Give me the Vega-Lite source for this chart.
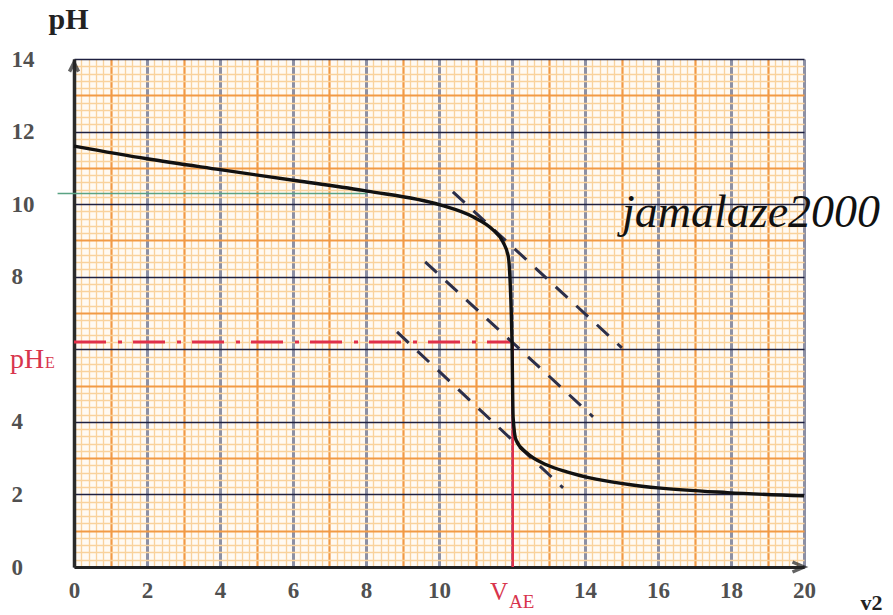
{
  "$schema": "https://vega.github.io/schema/vega-lite/v6.json",
  "width": 730,
  "height": 508,
  "autosize": {"type": "none"},
  "padding": {"left": 74, "top": 59, "right": 89, "bottom": 48},
  "background": "#ffffff",
  "config": {"view": {"stroke": null, "fill": "#fffaf3"}},
  "datasets": {
    "curve": [
      {"v": 0, "pH": 11.6},
      {"v": 2, "pH": 11.25},
      {"v": 4, "pH": 10.95},
      {"v": 6.2, "pH": 10.63},
      {"v": 8.03, "pH": 10.36},
      {"v": 10.03, "pH": 9.98},
      {"v": 10.93, "pH": 9.65},
      {"v": 11.48, "pH": 9.29},
      {"v": 11.75, "pH": 8.96},
      {"v": 11.9, "pH": 8.55},
      {"v": 11.95, "pH": 7.83},
      {"v": 12.0, "pH": 6.18},
      {"v": 12.03, "pH": 4.14},
      {"v": 12.11, "pH": 3.5},
      {"v": 12.41, "pH": 3.14},
      {"v": 12.96, "pH": 2.81},
      {"v": 13.5, "pH": 2.62},
      {"v": 14.3, "pH": 2.42},
      {"v": 15.3, "pH": 2.26},
      {"v": 16.0, "pH": 2.18},
      {"v": 17.9, "pH": 2.05},
      {"v": 20, "pH": 1.96}
    ],
    "tangents": [
      {"t": "a", "v": 10.38, "pH": 10.34},
      {"t": "a", "v": 15.01, "pH": 6.04},
      {"t": "b", "v": 9.62, "pH": 8.41},
      {"t": "b", "v": 14.22, "pH": 4.14},
      {"t": "c", "v": 8.85, "pH": 6.48},
      {"t": "c", "v": 13.4, "pH": 2.18}
    ],
    "phe": [{"v": 0, "pH": 6.2}, {"v": 11.95, "pH": 6.2}],
    "vae": [{"v": 12.02, "pH": 0}, {"v": 12.02, "pH": 6.2}],
    "green": [{"v": -0.45, "pH": 10.29}, {"v": 8.03, "pH": 10.29}],
    "xarrow": [{"v": 20, "pH": 0}],
    "yarrow": [{"v": 0, "pH": 13.9}],
    "anchor12": [{"v": 12, "pH": 0}],
    "anchor6": [{"v": 0, "pH": 6}],
    "mark": [{"v": 16, "pH": 10, "label": "jamalaze2000"}]
  },
  "layer": [
    {
      "data": {"name": "vae"},
      "mark": {"type": "line", "color": "#e0304a", "strokeWidth": 2.5},
      "encoding": {
        "x": {
          "field": "v", "type": "quantitative",
          "scale": {"domain": [0, 20], "nice": false, "zero": false},
          "axis": {
            "values": [0,0.2,0.4,0.6,0.8,1,1.2,1.4,1.6,1.8,2,2.2,2.4,2.6,2.8,3,3.2,3.4,3.6,3.8,4,4.2,4.4,4.6,4.8,5,5.2,5.4,5.6,5.8,6,6.2,6.4,6.6,6.8,7,7.2,7.4,7.6,7.8,8,8.2,8.4,8.6,8.8,9,9.2,9.4,9.6,9.8,10,10.2,10.4,10.6,10.8,11,11.2,11.4,11.6,11.8,12,12.2,12.4,12.6,12.8,13,13.2,13.4,13.6,13.8,14,14.2,14.4,14.6,14.8,15,15.2,15.4,15.6,15.8,16,16.2,16.4,16.6,16.8,17,17.2,17.4,17.6,17.8,18,18.2,18.4,18.6,18.8,19,19.2,19.4,19.6,19.8,20],
            "tickCount": 500,
            "grid": true,
            "gridColor": {"condition": [{"test": "datum.value % 2 === 0", "value": "#8d90a4"}, {"test": "datum.value % 1 === 0", "value": "#f29a45"}], "value": "#f9d29c"},
            "gridWidth": {"condition": [{"test": "datum.value % 2 === 0", "value": 3}, {"test": "datum.value % 1 === 0", "value": 2.2}], "value": 1.3},
            "gridOpacity": 1,
            "ticks": false,
            "domain": true,
            "domainColor": "#222222",
            "domainWidth": 3,
            "labelExpr": "datum.value % 2 === 0 && datum.value !== 12 ? '' + datum.value : ''",
            "labelOverlap": false,
            "labelBound": false,
            "labelFlush": false,
            "labelFont": "Liberation Serif",
            "labelFontWeight": "bold",
            "labelFontSize": 23,
            "labelColor": "#505050",
            "labelBaseline": "middle",
            "labelPadding": 23,
            "labelDx": 3,
            "title": "v2",
            "titleFont": "Liberation Serif",
            "titleFontWeight": "bold",
            "titleFontSize": 22,
            "titleColor": "#222222",
            "titleAlign": "left",
            "titleAnchor": "start",
            "titleBaseline": "alphabetic",
            "titleX": 786,
            "titleY": 42
          }
        },
        "y": {
          "field": "pH", "type": "quantitative",
          "scale": {"domain": [0, 14], "nice": false, "zero": false},
          "axis": {
            "values": [0,0.2,0.4,0.6,0.8,1,1.2,1.4,1.6,1.8,2,2.2,2.4,2.6,2.8,3,3.2,3.4,3.6,3.8,4,4.2,4.4,4.6,4.8,5,5.2,5.4,5.6,5.8,6,6.2,6.4,6.6,6.8,7,7.2,7.4,7.6,7.8,8,8.2,8.4,8.6,8.8,9,9.2,9.4,9.6,9.8,10,10.2,10.4,10.6,10.8,11,11.2,11.4,11.6,11.8,12,12.2,12.4,12.6,12.8,13,13.2,13.4,13.6,13.8,14],
            "tickCount": 500,
            "grid": true,
            "gridColor": {"condition": [{"test": "datum.value % 2 === 0", "value": "#1e2040"}, {"test": "datum.value % 1 === 0", "value": "#f29a45"}], "value": "#f9d29c"},
            "gridWidth": {"condition": [{"test": "datum.value % 2 === 0", "value": 1.6}, {"test": "datum.value % 1 === 0", "value": 2.2}], "value": 1.3},
            "gridOpacity": 1,
            "ticks": false,
            "domain": true,
            "domainColor": "#2a2a2a",
            "domainWidth": 3.5,
            "labelExpr": "datum.value % 2 === 0 && datum.value !== 6 ? '' + datum.value : ''",
            "labelOverlap": false,
            "labelBound": false,
            "labelFlush": false,
            "labelFont": "Liberation Serif",
            "labelFontWeight": "bold",
            "labelFontSize": 23,
            "labelColor": "#505050",
            "labelAlign": "left",
            "labelBaseline": "middle",
            "labelPadding": 63,
            "labelDy": 2,
            "title": "pH",
            "titleFont": "Liberation Serif",
            "titleFontWeight": "bold",
            "titleFontSize": 30,
            "titleColor": "#222222",
            "titleAngle": 0,
            "titleAlign": "center",
            "titleBaseline": "alphabetic",
            "titleX": -6,
            "titleY": -31
          }
        }
      }
    },
    {
      "data": {"name": "phe"},
      "mark": {"type": "line", "color": "#e0304a", "strokeWidth": 3, "strokeDash": [32, 12, 4, 11]},
      "encoding": {"x": {"field": "v", "type": "quantitative"}, "y": {"field": "pH", "type": "quantitative"}}
    },
    {
      "data": {"name": "green"},
      "mark": {"type": "line", "color": "#5aa383", "strokeWidth": 1.5, "clip": false},
      "encoding": {"x": {"field": "v", "type": "quantitative"}, "y": {"field": "pH", "type": "quantitative"}}
    },
    {
      "data": {"name": "tangents"},
      "mark": {"type": "line", "color": "#2c2f4a", "strokeWidth": 3, "strokeDash": [16, 12]},
      "encoding": {"x": {"field": "v", "type": "quantitative"}, "y": {"field": "pH", "type": "quantitative"}, "detail": {"field": "t"}}
    },
    {
      "data": {"name": "curve"},
      "mark": {"type": "line", "color": "#111111", "strokeWidth": 3.4, "interpolate": "monotone"},
      "encoding": {"x": {"field": "v", "type": "quantitative"}, "y": {"field": "pH", "type": "quantitative"}}
    },
    {
      "data": {"name": "xarrow"},
      "mark": {"type": "point", "shape": "M-2.3,-1L0,0L-2.3,1", "size": 100, "filled": false, "stroke": "#222222", "strokeWidth": 3.5, "clip": false},
      "encoding": {"x": {"field": "v", "type": "quantitative"}, "y": {"field": "pH", "type": "quantitative"}}
    },
    {
      "data": {"name": "yarrow"},
      "mark": {"type": "point", "shape": "M-0.9,1.8L0,0L0.9,1.8", "size": 100, "filled": false, "stroke": "#222222", "strokeWidth": 3.5, "clip": false},
      "encoding": {"x": {"field": "v", "type": "quantitative"}, "y": {"field": "pH", "type": "quantitative"}}
    },
    {
      "data": {"name": "anchor12"},
      "mark": {"type": "text", "text": "V", "font": "Liberation Serif", "fontSize": 25, "color": "#d8344c", "align": "center", "baseline": "alphabetic", "dx": -13, "dy": 33},
      "encoding": {"x": {"field": "v", "type": "quantitative"}, "y": {"field": "pH", "type": "quantitative"}}
    },
    {
      "data": {"name": "anchor12"},
      "mark": {"type": "text", "text": "AE", "font": "Liberation Serif", "fontSize": 19, "color": "#d8344c", "align": "left", "baseline": "alphabetic", "dx": -3, "dy": 41},
      "encoding": {"x": {"field": "v", "type": "quantitative"}, "y": {"field": "pH", "type": "quantitative"}}
    },
    {
      "data": {"name": "anchor6"},
      "mark": {"type": "text", "text": "pH", "font": "Liberation Serif", "fontSize": 28, "color": "#d8344c", "align": "left", "baseline": "alphabetic", "dx": -64, "dy": 18.5},
      "encoding": {"x": {"field": "v", "type": "quantitative"}, "y": {"field": "pH", "type": "quantitative"}}
    },
    {
      "data": {"name": "anchor6"},
      "mark": {"type": "text", "text": "E", "font": "Liberation Serif", "fontSize": 16, "color": "#d8344c", "align": "left", "baseline": "alphabetic", "dx": -29, "dy": 18.5},
      "encoding": {"x": {"field": "v", "type": "quantitative"}, "y": {"field": "pH", "type": "quantitative"}}
    },
    {
      "data": {"name": "mark"},
      "mark": {"type": "text", "font": "Liberation Serif", "fontStyle": "italic", "fontSize": 46, "color": "#111111", "align": "left", "baseline": "alphabetic", "dx": -36, "dy": 22.6},
      "encoding": {"x": {"field": "v", "type": "quantitative"}, "y": {"field": "pH", "type": "quantitative"}, "text": {"field": "label"}}
    }
  ]
}
